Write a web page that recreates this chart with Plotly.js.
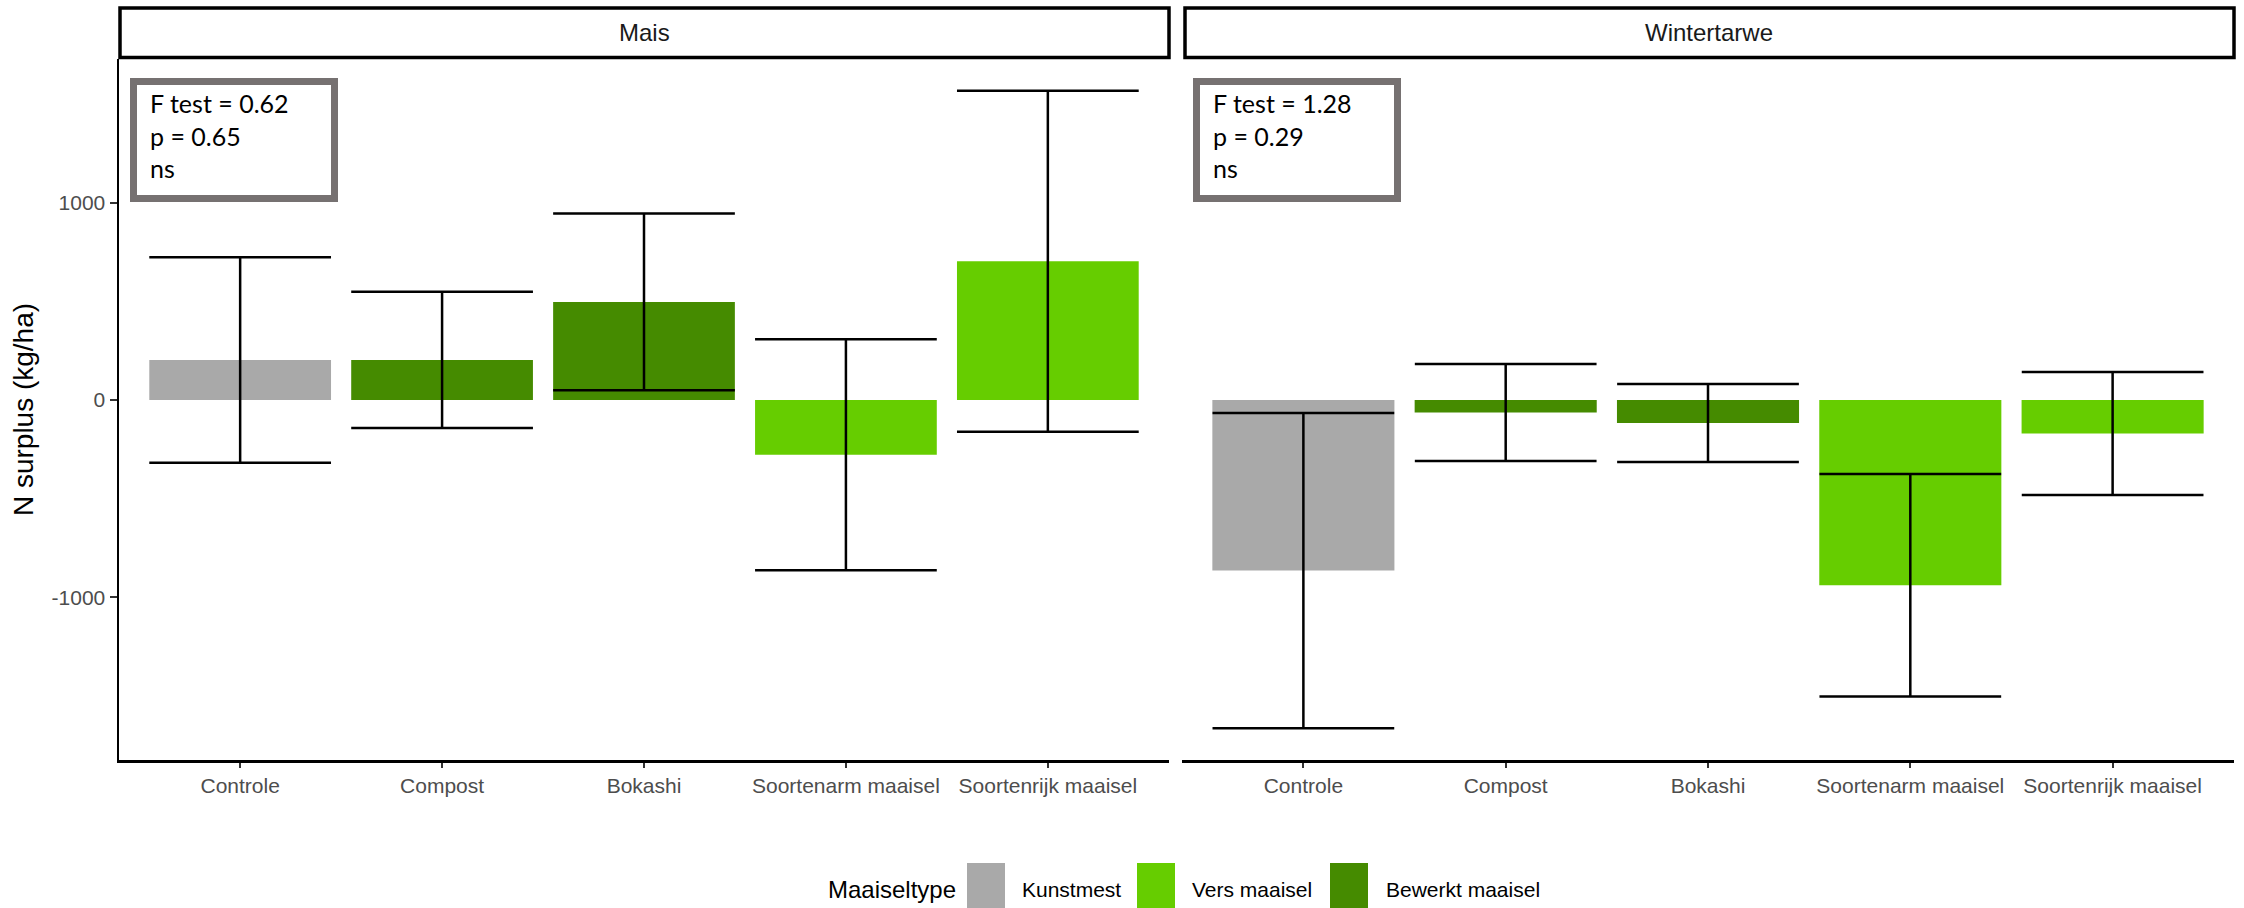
<!DOCTYPE html>
<html><head><meta charset="utf-8">
<script src="https://cdn.plot.ly/plotly-3.0.1.min.js"></script>
<style>html,body{margin:0;padding:0;background:#fff}#chart{width:2244px;height:908px}</style>
</head><body><div id="chart"></div>
<script>
// ---- data ----
const categories = ['Controle', 'Compost', 'Bokashi', 'Soortenarm maaisel', 'Soortenrijk maaisel'];
const panels = ['Mais', 'Wintertarwe'];
const maaiseltype = ['Kunstmest', 'Bewerkt maaisel', 'Bewerkt maaisel', 'Vers maaisel', 'Vers maaisel'];
const legendTypes = ['Kunstmest', 'Vers maaisel', 'Bewerkt maaisel'];
const typeColors = ['#A9A9A9', '#66CD00', '#458B00'];
const maisMean = [203, 203, 497, -278, 703];
const maisSE = [521, 345, 448, 586, 864];
const wintertarweMean = [-865, -64, -117, -940, -170];
const wintertarweSE = [799, 246, 198, 564, 312];
const fTest = ['0.62', '1.28'];
const pValues = ['0.65', '0.29'];
const signif = ['ns', 'ns'];
const yTickVals = [-1000, 0, 1000];
const yTickText = ['-1000', '0', '1000'];

// ---- geometry ----
const W = 2244, H = 908, L = 119, R = 10, T = 59, B = 148;
const plotW = W - L - R, plotH = H - T - B;
const px2x = p => (p - L) / plotW;
const py2y = p => (H - B - p) / plotH;
const FONT = 'Liberation Sans, Arial, sans-serif';

const means = [maisMean, wintertarweMean];
const ses = [maisSE, wintertarweSE];
let lo = Infinity, hi = -Infinity;
means.forEach((m, k) => m.forEach((v, i) => { lo = Math.min(lo, v - ses[k][i]); hi = Math.max(hi, v + ses[k][i]); }));
const pad = (hi - lo) * 0.05;
const yRange = [lo - pad, hi + pad];

const domains = [[0, px2x(1169)], [px2x(1182), 1]];
const xRange = [-0.6, categories.length - 0.4];
const barW = 0.9;
const panelPx = (domains[0][1] - domains[0][0]) * plotW;
const capHalf = barW * panelPx / (xRange[1] - xRange[0]) / 2;

const colorOf = t => typeColors[legendTypes.indexOf(t)];

const traces = panels.map((p, k) => ({
  type: 'bar',
  x: categories,
  y: means[k],
  width: barW,
  xaxis: k === 0 ? 'x' : 'x2',
  yaxis: k === 0 ? 'y' : 'y2',
  marker: { color: maaiseltype.map(colorOf), line: { width: 0 } },
  error_y: { type: 'data', array: ses[k], symmetric: true, color: '#000', thickness: 2.5, width: capHalf },
  showlegend: false,
  hoverinfo: 'skip'
}));

const xaxisBase = {
  type: 'category', range: xRange, showline: true, linecolor: '#000', linewidth: 2.5,
  ticks: 'outside', ticklen: 5, tickwidth: 2, tickcolor: '#333',
  tickfont: { family: FONT, size: 21, color: '#4D4D4D' },
  showgrid: false, zeroline: false, fixedrange: true
};

const shapes = [];
const annotations = [];
const stripPx = [[119, 1169], [1184, 2234]];
panels.forEach((p, k) => {
  shapes.push({ type: 'rect', xref: 'paper', yref: 'paper', layer: 'above',
    x0: px2x(stripPx[k][0] + 1), x1: px2x(stripPx[k][1]), y0: py2y(57.5), y1: py2y(8),
    line: { color: '#000', width: 3.5 }, fillcolor: 'rgba(0,0,0,0)' });
  annotations.push({ xref: 'paper', yref: 'paper', x: px2x((stripPx[k][0] + stripPx[k][1]) / 2), y: py2y(33),
    text: p, showarrow: false, xanchor: 'center', yanchor: 'middle',
    font: { family: FONT, size: 24, color: '#1A1A1A' } });
  const bx = k === 0 ? 130 : 1193;
  shapes.push({ type: 'rect', xref: 'paper', yref: 'paper', layer: 'above',
    x0: px2x(bx + 3.5), x1: px2x(bx + 204.5), y0: py2y(81.5), y1: py2y(198.5),
    line: { color: '#767171', width: 7 }, fillcolor: '#FFFFFF' });
  annotations.push({ xref: 'paper', yref: 'paper', x: px2x(bx + 18), y: py2y(86),
    text: 'F test = ' + fTest[k] + '<br>p = ' + pValues[k] + '<br>' + signif[k],
    showarrow: false, xanchor: 'left', yanchor: 'top', align: 'left',
    font: { family: 'Lato, sans-serif', size: 25, color: '#000' } });
});

// legend (bottom, manual)
annotations.push({ xref: 'paper', yref: 'paper', x: px2x(826), y: py2y(889), text: 'Maaiseltype',
  showarrow: false, xanchor: 'left', yanchor: 'middle', font: { family: FONT, size: 24, color: '#000' } });
const keyX = [967, 1137, 1330];
const labX = [1020, 1190, 1384];
legendTypes.forEach((t, i) => {
  shapes.push({ type: 'rect', xref: 'paper', yref: 'paper', x0: px2x(keyX[i]), x1: px2x(keyX[i] + 38),
    y0: py2y(912), y1: py2y(863), line: { width: 0 }, fillcolor: typeColors[i] });
  annotations.push({ xref: 'paper', yref: 'paper', x: px2x(labX[i]), y: py2y(889), text: t,
    showarrow: false, xanchor: 'left', yanchor: 'middle', font: { family: FONT, size: 21, color: '#000' } });
});

const layout = {
  width: W, height: H,
  margin: { l: L, r: R, t: T, b: B },
  paper_bgcolor: '#fff', plot_bgcolor: '#fff',
  showlegend: false,
  xaxis: Object.assign({}, xaxisBase, { domain: domains[0], anchor: 'y' }),
  xaxis2: Object.assign({}, xaxisBase, { domain: domains[1], anchor: 'y2' }),
  yaxis: {
    domain: [0, 1], range: yRange, anchor: 'x',
    tickvals: yTickVals, ticktext: yTickText,
    showline: true, linecolor: '#000', linewidth: 2.5,
    ticks: 'outside', ticklen: 7, tickwidth: 2, tickcolor: '#333',
    tickfont: { family: FONT, size: 21, color: '#4D4D4D' },
    showgrid: false, zeroline: false, fixedrange: true,
    title: { text: 'N surplus (kg/ha)', font: { family: FONT, size: 28, color: '#000' }, standoff: 10 }
  },
  yaxis2: {
    domain: [0, 1], matches: 'y', anchor: 'x2', range: yRange,
    showline: false, showticklabels: false, ticks: '', showgrid: false, zeroline: false, fixedrange: true
  },
  shapes: shapes,
  annotations: annotations
};

Plotly.newPlot('chart', traces, layout, { staticPlot: true, displayModeBar: false });
</script>
</body></html>
